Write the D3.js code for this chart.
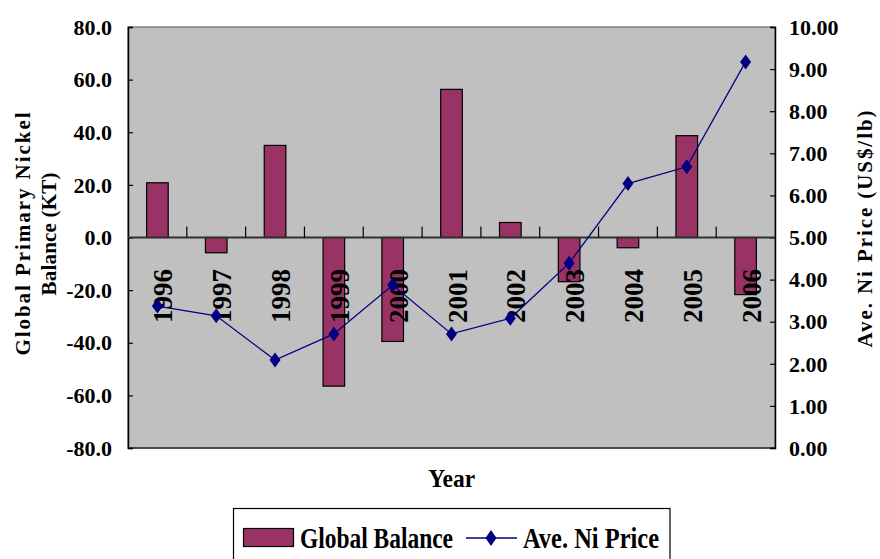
<!DOCTYPE html>
<html>
<head>
<meta charset="utf-8">
<script src="https://cdn.jsdelivr.net/npm/d3@7"></script>
<style>
  html, body { margin: 0; padding: 0; background: #fff; }
  svg { display: block; }
  text { font-family: "Liberation Serif", "Times New Roman", serif; font-weight: bold; fill: #000; }
</style>
</head>
<body>
<svg id="chart" width="880" height="559"></svg>
<script>
const years = ["1996","1997","1998","1999","2000","2001","2002","2003","2004","2005","2006"];
const globalBalance = [20.8, -5.8, 35.0, -56.5, -39.5, 56.3, 5.7, -16.8, -3.9, 38.7, -21.7];
const niPrice = [3.37, 3.14, 2.09, 2.71, 3.87, 2.71, 3.08, 4.39, 6.28, 6.68, 9.17];
const leftTicks = [-80, -60, -40, -20, 0, 20, 40, 60, 80];
const rightTicks = [0, 1, 2, 3, 4, 5, 6, 7, 8, 9, 10];
const seriesNames = ["Global Balance", "Ave. Ni Price"];
const titles = { left1: "Global Primary Nickel", left2: "Balance (KT)", right: "Ave. Ni Price (US$/lb)", x: "Year" };

const svg = d3.select("#chart");
const L = 128, R = 775, T = 27, B = 448;
const barColor = "#993366", lineColor = "#000080";

const x = d3.scaleBand().domain(years).range([L, R]).padding(0);
const y1 = d3.scaleLinear().domain([-80, 80]).range([B, T]);
const y2 = d3.scaleLinear().domain([0, 10]).range([B, T]);
const barW = 21.6;
const fmt1 = (d) => d3.format(".1f")(d).replace("\u2212", "-");
const fmt2 = (d) => d3.format(".2f")(d).replace("\u2212", "-");

// plot background
svg.append("rect").attr("x", L).attr("y", T).attr("width", R - L).attr("height", B - T)
  .attr("fill", "#c0c0c0").attr("stroke", "#808080").attr("stroke-width", 1.5);

// bars
svg.append("g").selectAll("rect").data(years).join("rect")
  .attr("x", (d) => x(d) + x.bandwidth() / 2 - barW / 2)
  .attr("width", barW)
  .attr("y", (d, i) => y1(Math.max(0, globalBalance[i])))
  .attr("height", (d, i) => Math.abs(y1(globalBalance[i]) - y1(0)))
  .attr("fill", barColor).attr("stroke", "#000").attr("stroke-width", 1.2);

// left axis (inside ticks)
const leftAxis = d3.axisRight(y1).tickValues(leftTicks).tickSize(5).tickFormat("");
const gL = svg.append("g").attr("transform", `translate(${L},0)`).call(leftAxis);
gL.select(".domain").attr("stroke", "#000").attr("stroke-width", 1.5);
gL.selectAll(".tick line").attr("stroke", "#000").attr("stroke-width", 1.2);
svg.append("g").selectAll("text").data(leftTicks).join("text")
  .attr("x", 112).attr("y", (d) => y1(d)).attr("dy", "0.35em")
  .attr("text-anchor", "end").attr("font-size", 22)
  .text(fmt1);

// right axis (inside ticks)
const rightAxis = d3.axisLeft(y2).tickValues(rightTicks).tickSize(5).tickFormat("");
const gR = svg.append("g").attr("transform", `translate(${R},0)`).call(rightAxis);
gR.select(".domain").attr("stroke", "#000").attr("stroke-width", 1.5);
gR.selectAll(".tick line").attr("stroke", "#000").attr("stroke-width", 1.2);
svg.append("g").selectAll("text").data(rightTicks).join("text")
  .attr("x", 789).attr("y", (d) => y2(d)).attr("dy", "0.35em")
  .attr("text-anchor", "start").attr("font-size", 22)
  .text(fmt2);

// bottom border line
svg.append("line").attr("x1", L).attr("x2", R).attr("y1", B).attr("y2", B)
  .attr("stroke", "#000").attr("stroke-width", 1.2);

// category axis at zero
const y0 = y1(0);
svg.append("line").attr("x1", L).attr("x2", R).attr("y1", y0).attr("y2", y0)
  .attr("stroke", "#303030").attr("stroke-width", 1.8);
svg.append("g").selectAll("line").data(years.slice(1)).join("line")
  .attr("x1", (d) => x(d)).attr("x2", (d) => x(d))
  .attr("y1", y0).attr("y2", y0 - 11)
  .attr("stroke", "#000").attr("stroke-width", 1.2);

// category labels (rotated)
svg.append("g").selectAll("text").data(years).join("text")
  .attr("transform", (d) => `translate(${x(d) + x.bandwidth() / 2 + 6},269) rotate(-90)`)
  .attr("text-anchor", "end").attr("dominant-baseline", "central")
  .attr("font-size", 27)
  .text((d) => d);

// price line
const line = d3.line().x((d, i) => x(years[i]) + x.bandwidth() / 2).y((d) => y2(d));
svg.append("path").datum(niPrice).attr("d", line)
  .attr("fill", "none").attr("stroke", lineColor).attr("stroke-width", 1.3);
const diamond = (w, h) => `M0,${-h / 2}L${w / 2},0L0,${h / 2}L${-w / 2},0Z`;
svg.append("g").selectAll("path").data(niPrice).join("path")
  .attr("transform", (d, i) => `translate(${x(years[i]) + x.bandwidth() / 2},${y2(d)})`)
  .attr("d", diamond(11, 15)).attr("fill", lineColor);

// axis titles
svg.append("text").attr("transform", "translate(30,234) rotate(-90)")
  .attr("text-anchor", "middle").attr("font-size", 21)
  .attr("textLength", 243).attr("lengthAdjust", "spacing")
  .text(titles.left1);
svg.append("text").attr("transform", "translate(56,234) rotate(-90)")
  .attr("text-anchor", "middle").attr("font-size", 21)
  .attr("textLength", 123).attr("lengthAdjust", "spacing")
  .text(titles.left2);
svg.append("text").attr("transform", "translate(872,229) rotate(-90)")
  .attr("text-anchor", "middle").attr("font-size", 21)
  .attr("textLength", 237).attr("lengthAdjust", "spacing")
  .text(titles.right);
svg.append("text").attr("x", 451.7).attr("y", 486.5)
  .attr("text-anchor", "middle").attr("font-size", 26)
  .attr("textLength", 47).attr("lengthAdjust", "spacingAndGlyphs")
  .text(titles.x);

// legend
const lg = svg.append("g");
lg.append("rect").attr("x", 233.5).attr("y", 508.5).attr("width", 436.5).attr("height", 70)
  .attr("fill", "#fff").attr("stroke", "#000").attr("stroke-width", 1.2);
lg.append("rect").attr("x", 243.5).attr("y", 528.5).attr("width", 50).attr("height", 18)
  .attr("fill", barColor).attr("stroke", "#000").attr("stroke-width", 1.2);
lg.append("text").attr("x", 300).attr("y", 547.5).attr("font-size", 29)
  .attr("textLength", 153).attr("lengthAdjust", "spacingAndGlyphs")
  .text(seriesNames[0]);
lg.append("line").attr("x1", 466).attr("x2", 517).attr("y1", 538).attr("y2", 538)
  .attr("stroke", lineColor).attr("stroke-width", 1.3);
lg.append("path").attr("transform", "translate(491,538)").attr("d", diamond(11, 16)).attr("fill", lineColor);
lg.append("text").attr("x", 523).attr("y", 547.5).attr("font-size", 29)
  .attr("textLength", 136).attr("lengthAdjust", "spacingAndGlyphs")
  .text(seriesNames[1]);
</script>
</body>
</html>
